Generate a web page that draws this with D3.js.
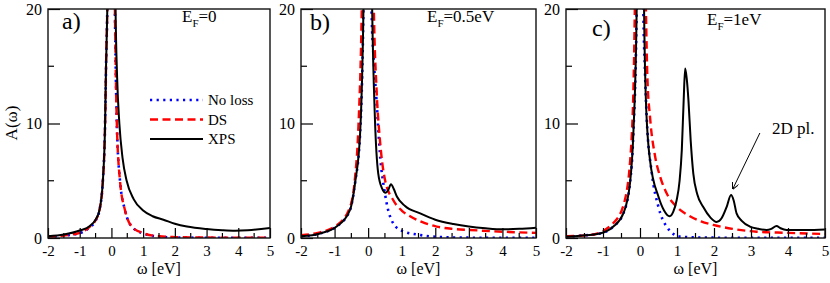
<!DOCTYPE html>
<html>
<head>
<meta charset="utf-8">
<script src="https://cdn.jsdelivr.net/npm/d3@7"></script>
<style>
  body { margin: 0; background: #fff; }
  svg { display: block; font-family: "Liberation Serif", "Times New Roman", serif; }
</style>
</head>
<body>
<div class="graphic"></div>
<script>
var width = 830;
var height = 283;

// data: [omega (eV), A(omega)]
var xTicks = [-2, -1, 0, 1, 2, 3, 4, 5];
var xMinor = [-1.5, -0.5, 0.5, 1.5, 2.5, 3.5, 4.5];
var yTicks = [0, 10, 20];
var yMinor = [5, 15];

var aNoLoss = [[-2,0.1],[-1.5,0.2],[-1,0.42],[-0.68,0.95],[-0.5,1.5],[-0.38,2.4],[-0.27,5],[-0.2,10],[-0.17,15],[-0.13,20],[-0.08,32],[-0.01,50],[0.07,32],[0.11,20],[0.14,14],[0.17,10],[0.27,5],[0.43,2.4],[0.64,1.0],[1.0,0.4],[1.5,0.12],[2,0.05],[3,0.02],[4,0.01],[5,0.01]];
var aDS = [[-2,0.12],[-1.5,0.22],[-1,0.45],[-0.68,1.0],[-0.5,1.55],[-0.38,2.4],[-0.27,5],[-0.2,10],[-0.17,15],[-0.13,20],[-0.08,32],[-0.01,50],[0.07,32],[0.11,20],[0.14,14],[0.17,10],[0.27,5],[0.43,2.4],[0.64,1.0],[1.0,0.42],[1.5,0.15],[2,0.08],[3,0.04],[4,0.03],[5,0.02]];
var aXPS = [[-2,0.15],[-1.5,0.3],[-1,0.65],[-0.68,1.05],[-0.5,1.6],[-0.38,2.4],[-0.27,5],[-0.2,10],[-0.17,15],[-0.13,20],[-0.08,32],[0,50],[0.09,32],[0.13,20],[0.18,14],[0.25,10],[0.35,7],[0.48,5],[0.7,3.4],[1.0,2.4],[1.3,1.9],[1.64,1.6],[2,1.25],[2.38,1.0],[3,0.78],[3.5,0.68],[3.9,0.64],[4.3,0.68],[5,0.88]];

var bNoLoss = [[-2,0.15],[-1.43,0.4],[-0.94,1.0],[-0.54,2.45],[-0.39,4.8],[-0.24,9.1],[-0.14,20],[-0.09,32],[0,50],[0.06,32],[0.1,20],[0.18,15],[0.25,12],[0.35,7.4],[0.5,3.9],[0.65,1.9],[0.95,0.7],[1.55,0.26],[2.03,0.1],[3,0.03],[4,0.02],[5,0.01]];
var bDS = [[-2,0.25],[-1.5,0.45],[-0.94,1.1],[-0.54,2.7],[-0.4,5],[-0.29,9.7],[-0.19,20],[-0.12,36],[0,50],[0.1,36],[0.17,20],[0.25,13],[0.35,8.6],[0.5,5.1],[0.75,3.3],[1.0,2.4],[1.25,1.9],[1.6,1.4],[2.04,1.0],[2.5,0.8],[3.03,0.7],[4,0.55],[5,0.45]];
var bXPS = [[-2,0.15],[-1.43,0.4],[-0.94,1.0],[-0.54,2.45],[-0.39,4.8],[-0.24,9.1],[-0.14,20],[-0.09,32],[0,50],[0.07,32],[0.12,20],[0.2,10.6],[0.3,5.65],[0.42,4.3],[0.52,3.95],[0.6,4.2],[0.68,4.7],[0.76,4.3],[0.86,3.6],[1.1,2.8],[1.55,2.15],[2.0,1.6],[2.54,1.22],[3,1.0],[3.5,0.85],[4.03,0.76],[4.5,0.8],[5,0.9]];

var cNoLoss = [[-2,0.1],[-1.62,0.2],[-1.08,0.4],[-0.72,1.0],[-0.45,2.15],[-0.27,4.8],[-0.18,9.1],[-0.09,20],[-0.05,35],[0.02,50],[0.06,32],[0.09,20],[0.13,15],[0.18,10.6],[0.32,5.65],[0.5,2.7],[0.72,1.0],[1.08,0.12],[1.5,0.05],[2,0.03],[3,0.02],[5,0.01]];
var cDS = [[-2,0.15],[-1.35,0.26],[-0.72,1.3],[-0.41,3.3],[-0.22,9.1],[-0.14,20],[-0.08,40],[0,50],[0.1,35],[0.16,20],[0.2,14],[0.27,10.6],[0.41,7.1],[0.55,5.3],[0.72,3.9],[1.0,2.7],[1.35,1.9],[1.65,1.45],[1.98,1.14],[2.5,0.8],[3.15,0.55],[4,0.45],[5,0.35]];
var cXPS = [[-2,0.1],[-1.62,0.2],[-1.08,0.4],[-0.72,1.0],[-0.45,2.15],[-0.27,4.8],[-0.18,9.1],[-0.09,20],[-0.05,35],[0.02,50],[0.07,35],[0.11,20],[0.16,12],[0.27,6.8],[0.5,3.6],[0.65,2.4],[0.8,1.9],[0.9,2.3],[0.99,3.3],[1.07,5],[1.13,7.7],[1.18,12],[1.22,14.8],[1.26,14],[1.31,12],[1.37,8.5],[1.44,5.65],[1.55,3.8],[1.71,2.7],[1.9,1.8],[2.07,1.4],[2.2,1.7],[2.34,2.7],[2.46,3.75],[2.53,3.3],[2.61,2.15],[2.75,1.5],[2.97,1.0],[3.2,0.8],[3.42,0.7],[3.55,0.8],[3.69,1.05],[3.8,0.85],[3.96,0.7],[4.5,0.7],[5,0.75]];

var panelLabels = ["a)", "b)", "c)"];
var fermiValues = ["=0", "=0.5eV", "=1eV"];
var legendNames = ["No loss", "DS", "XPS"];

var series = [
	{ noloss: aNoLoss, ds: aDS, xps: aXPS },
	{ noloss: bNoLoss, ds: bDS, xps: bXPS },
	{ noloss: cNoLoss, ds: cDS, xps: cXPS }
];

// layout of the three frames
var panels = [
	{ left: 48, right: 270, lab: [62, 29], ef: [182, 22] },
	{ left: 301, right: 536, lab: [310, 30], ef: [427, 22] },
	{ left: 566, right: 825, lab: [592, 36], ef: [707, 25] }
];
var plotTop = 9, plotBottom = 238;

var styles = {
	noloss: { color: "#0000ff", width: 2.6, dash: "2.2,4.4" },
	ds: { color: "#ff0000", width: 2.4, dash: "8,4.5" },
	xps: { color: "#000000", width: 2, dash: null }
};

var svg = d3.select("div.graphic").append("svg")
	.attr("width", width)
	.attr("height", height);

var fmt = function(d){ return String(d); };

panels.forEach(function(p, i){
	var x = d3.scaleLinear().domain([-2, 5]).range([p.left, p.right]);
	var y = d3.scaleLinear().domain([0, 20]).range([plotBottom, plotTop]);
	var g = svg.append("g");

	g.append("clipPath").attr("id", "clip" + i)
		.append("rect")
		.attr("x", p.left).attr("y", plotTop)
		.attr("width", p.right - p.left).attr("height", plotBottom - plotTop);

	var line = d3.line()
		.x(function(d){ return x(d[0]); })
		.y(function(d){ return y(d[1]); })
		.curve(d3.curveMonotoneX);

	var curves = g.append("g").attr("clip-path", "url(#clip" + i + ")");
	["noloss", "ds", "xps"].forEach(function(k){
		curves.append("path")
			.attr("d", line(series[i][k]))
			.attr("fill", "none")
			.attr("stroke", styles[k].color)
			.attr("stroke-width", styles[k].width)
			.attr("stroke-dasharray", styles[k].dash);
	});

	// axes with inward ticks
	var xAxis = d3.axisBottom(x).tickValues(xTicks).tickFormat(fmt).tickSize(-10).tickPadding(7);
	var xg = g.append("g").attr("transform", "translate(0," + plotBottom + ")").call(xAxis);
	xg.selectAll("line").attr("stroke", "#000").attr("stroke-width", 1.2);
	xg.selectAll("text").attr("font-size", 15).attr("fill", "#000").attr("font-family", "Liberation Serif");
	xg.select(".domain").remove();
	xg.selectAll("line.minor").data(xMinor).enter().append("line")
		.attr("x1", function(d){ return x(d); }).attr("x2", function(d){ return x(d); })
		.attr("y1", 0).attr("y2", -5)
		.attr("stroke", "#000").attr("stroke-width", 1.2);

	var yAxis = d3.axisLeft(y).tickValues(yTicks).tickFormat(fmt).tickSize(-12).tickPadding(6);
	var yg = g.append("g").attr("transform", "translate(" + p.left + ",0)").call(yAxis);
	yg.selectAll("line").attr("stroke", "#000").attr("stroke-width", 1.2);
	yg.selectAll("text").attr("font-size", 16).attr("fill", "#000").attr("font-family", "Liberation Serif");
	yg.select(".domain").remove();
	yg.selectAll("line.minor").data(yMinor).enter().append("line")
		.attr("y1", function(d){ return y(d); }).attr("y2", function(d){ return y(d); })
		.attr("x1", 0).attr("x2", 6)
		.attr("stroke", "#000").attr("stroke-width", 1.2);

	// frame
	g.append("rect")
		.attr("x", p.left).attr("y", plotTop)
		.attr("width", p.right - p.left).attr("height", plotBottom - plotTop)
		.attr("fill", "none").attr("stroke", "#111").attr("stroke-width", 1.4);

	g.append("text")
		.attr("x", (p.left + p.right) / 2).attr("y", 274)
		.attr("text-anchor", "middle").attr("font-size", 16)
		.text("ω [eV]");

	g.append("text")
		.attr("x", p.lab[0]).attr("y", p.lab[1])
		.attr("font-size", 24)
		.text(panelLabels[i]);

	var ef = g.append("text")
		.attr("x", p.ef[0]).attr("y", p.ef[1])
		.attr("font-size", 17);
	ef.append("tspan").text("E");
	ef.append("tspan").attr("dy", 5).attr("font-size", 11).text("F");
	ef.append("tspan").attr("dy", -5).text(fermiValues[i]);

	if (i == 0){
		svg.append("text")
			.attr("transform", "translate(17,123) rotate(-90)")
			.attr("text-anchor", "middle").attr("font-size", 17)
			.text("A(ω)");
		var keys = ["noloss", "ds", "xps"];
		var legY = [100, 119.5, 139];
		keys.forEach(function(k, j){
			g.append("line")
				.attr("x1", 150).attr("x2", 203)
				.attr("y1", legY[j]).attr("y2", legY[j])
				.attr("stroke", styles[k].color)
				.attr("stroke-width", styles[k].width)
				.attr("stroke-dasharray", styles[k].dash);
			g.append("text")
				.attr("x", 208).attr("y", legY[j] + 5)
				.attr("font-size", 15)
				.text(legendNames[j]);
		});
	}

	if (i == 2){
		// annotation for the 2D plasmon satellite
		svg.append("defs").append("marker")
			.attr("id", "arrow")
			.attr("viewBox", "0 0 10 10")
			.attr("refX", 9).attr("refY", 5)
			.attr("markerWidth", 7).attr("markerHeight", 7)
			.attr("markerUnits", "userSpaceOnUse")
			.attr("orient", "auto")
			.append("path").attr("d", "M0,0 L10,5 L0,10").attr("fill", "none").attr("stroke", "#000").attr("stroke-width", 1.4);
		g.append("line")
			.attr("x1", x(3.24)).attr("y1", y(9.17))
			.attr("x2", x(2.51)).attr("y2", y(4.3))
			.attr("stroke", "#000").attr("stroke-width", 1)
			.attr("marker-end", "url(#arrow)");
		g.append("text")
			.attr("x", x(3.57)).attr("y", y(9.1))
			.attr("font-size", 17)
			.text("2D pl.");
	}
});
</script>
</body>
</html>
